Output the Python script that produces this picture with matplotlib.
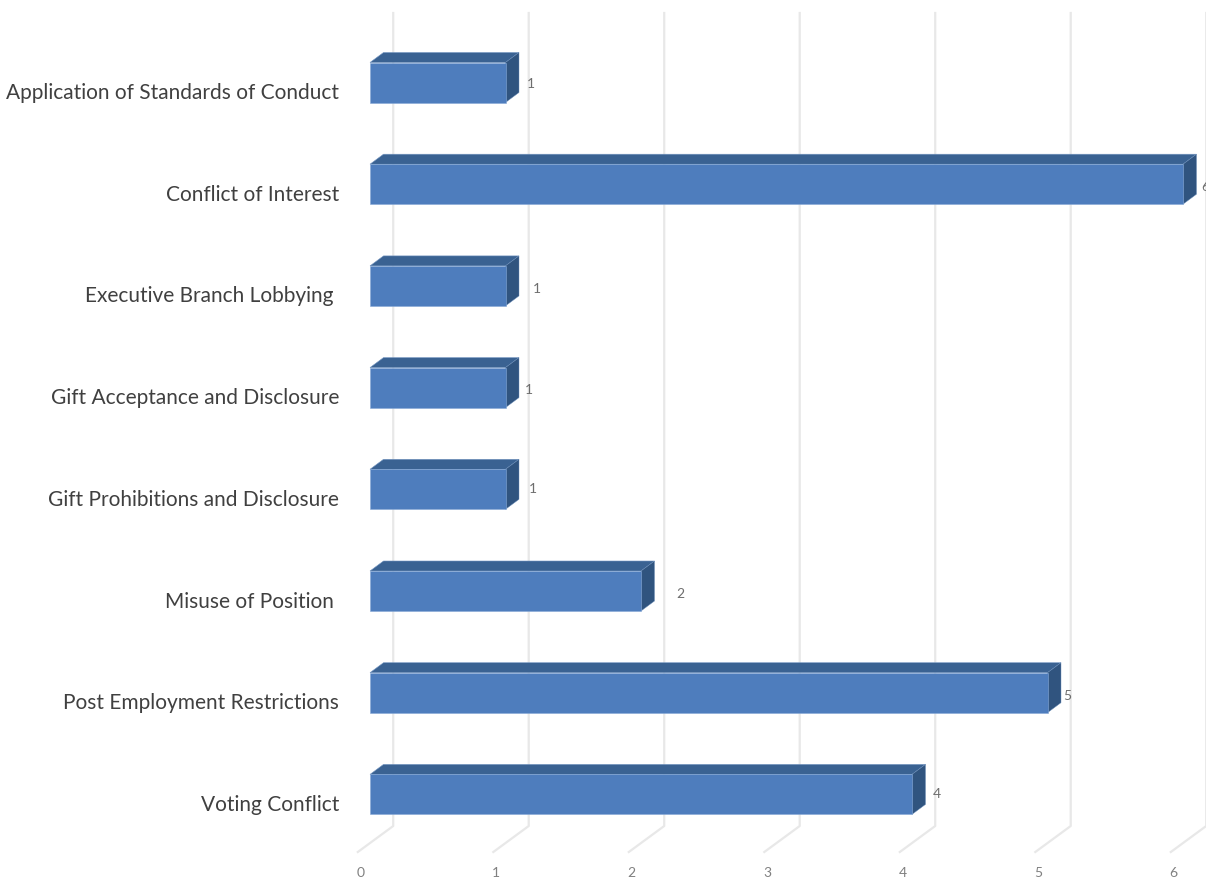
import matplotlib
matplotlib.use("Agg")
import matplotlib.pyplot as plt
from matplotlib.patches import Polygon

categories = [
    "Application of Standards of Conduct",
    "Conflict of Interest",
    "Executive Branch Lobbying ",
    "Gift Acceptance and Disclosure",
    "Gift Prohibitions and Disclosure",
    "Misuse of Position ",
    "Post Employment Restrictions",
    "Voting Conflict",
]
values = [1, 6, 1, 1, 1, 2, 5, 4]
ticks = [0, 1, 2, 3, 4, 5, 6]
# data labels are hand placed in the original, offset in px from the bar end
label_dx = [25, 22, 31, 23, 27, 39, 20, 25]
label_dy = [1, 2, 2, 1, -1, 2, 2, -1]

W, H = 1206, 879
X0, PX = 370, 135.5
Y0, PY = 83.5, 101.7
BAR = 40 / PY
DX, DY = 13.5 / PX, 10 / PY


def px_x(p):
    return (p - X0) / PX


def px_y(p):
    return (p - Y0) / PY


plt.rcParams["font.family"] = ["Lato", "DejaVu Sans"]
fig = plt.figure(figsize=(W / 100, H / 100), dpi=100)
ax = fig.add_axes([0, 0, 1, 1])
ax.set_xlim(px_x(0), px_x(W))
ax.set_ylim(px_y(H), px_y(0))
ax.axis("off")

# back wall gridlines plus the floor diagonals
for t in ticks:
    ax.plot([t + DX * 1.72, t + DX * 1.72, t - 0.09], [px_y(14), px_y(827), px_y(853)],
            color="#e8e8e8", lw=1.6, zorder=1, solid_joinstyle="round")
    ax.text(t - 0.068, px_y(873), str(t), ha="center", va="center", fontsize=10, color="#808080")

for i, (cat, v) in enumerate(zip(categories, values)):
    top = i - BAR / 2
    bot = i + BAR / 2
    ax.add_patch(Polygon([(0, top), (DX, top - DY), (v + DX, top - DY), (v, top)],
                         facecolor="#3a6292", edgecolor="#7496c2", lw=0.4, zorder=3))
    ax.add_patch(Polygon([(v, top), (v + DX, top - DY), (v + DX, bot - DY), (v, bot)],
                         facecolor="#30547f", edgecolor="#6a8db9", lw=0.3, zorder=3))
    ax.barh(i, v, height=BAR, left=0, color="#4e7dbd", edgecolor="#86a9d6", lw=0.4, zorder=4)
    ax.text(px_x(339), i + 9.5 / PY, cat, ha="right", va="center", fontsize=15, color="#404040")
    ax.text(v + label_dx[i] / PX, i + label_dy[i] / PY, str(v), ha="center", va="center",
            fontsize=10, color="#6e6e6e")

fig.savefig("out.png", dpi=100)
